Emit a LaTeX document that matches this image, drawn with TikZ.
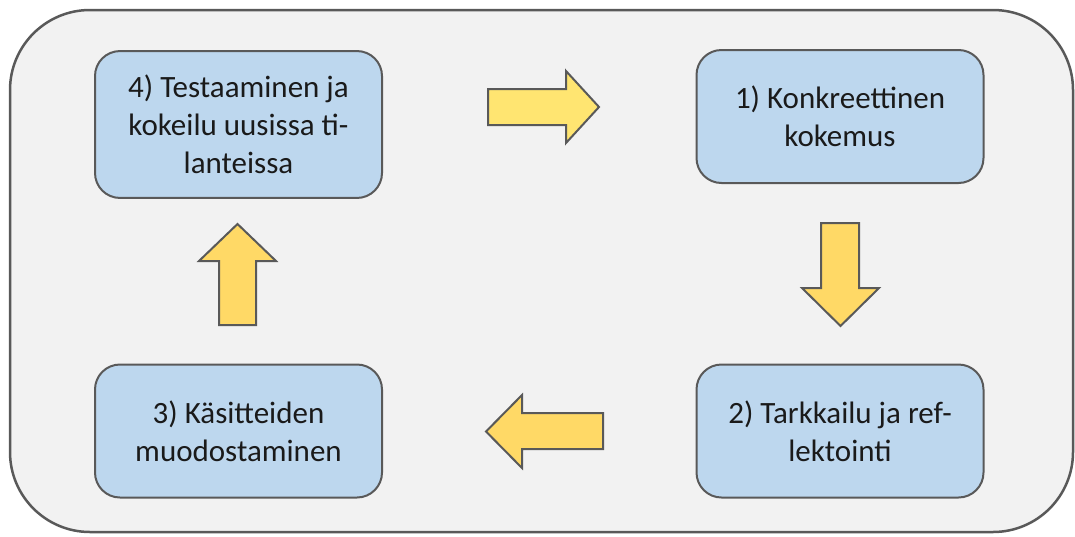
\documentclass[tikz,border=0pt]{standalone}
\usepackage{fontspec}
\setmainfont{Carlito}
\usepackage{xcolor}
\definecolor{framegray}{HTML}{595959}
\definecolor{panelgray}{HTML}{F2F2F2}
\definecolor{stepblue}{HTML}{BDD7EE}
\definecolor{arrowyellow}{HTML}{FFD966}
\definecolor{paleyellow}{HTML}{FFE571}
\definecolor{textblack}{HTML}{1A1A1A}
\usepackage{tikz}
\usetikzlibrary{positioning}

\tikzset{
  stepbox/.style={draw=framegray, line width=2pt, fill=stepblue, rounded corners=25pt,
    minimum width=287pt, minimum height=133pt, inner xsep=14pt, inner ysep=24pt, align=center,
    text=textblack, font=\fontsize{31}{38}\selectfont},
  blockarrow/.style={draw=framegray, line width=2pt, fill=arrowyellow, line join=miter}
}

\begin{document}
\begin{tikzpicture}[x=1pt, y=-1pt]
  \useasboundingbox (0,0) rectangle (1075,536);
  % Background panel round the whole cycle
  \draw[framegray, line width=2.5pt, fill=panelgray, rounded corners=80pt] (10,10) rectangle (1073,532);

  % The four steps of the cycle
  \node[stepbox] (test) at (238.5,124.5) {4) Testaaminen ja\\kokeilu uusissa ti-\\lanteissa};
  \node[stepbox] (kokemus) at (840,116.5) {1) Konkreettinen\\kokemus};
  \node[stepbox] (kasitteet) at (238.5,431) {3) Käsitteiden\\muodostaminen};
  \node[stepbox] (tarkkailu) at (840,431) {2) Tarkkailu ja ref-\\lektointi};

  % Block arrows between the steps
  \draw[blockarrow, fill=paleyellow] (488,89) -- (566,89) -- (566,71) -- (599,107) -- (566,143) -- (566,125) -- (488,125) -- cycle;
  \draw[blockarrow] (821,223) -- (859,223) -- (859,288) -- (879,288) -- (840.5,326) -- (802,288) -- (821,288) -- cycle;
  \draw[blockarrow] (603,413) -- (522,413) -- (522,395) -- (486,431.5) -- (522,468) -- (522,449) -- (603,449) -- cycle;
  \draw[blockarrow] (219,325) -- (219,261) -- (199,261) -- (237.5,224) -- (276,261) -- (256,261) -- (256,325) -- cycle;
\end{tikzpicture}
\end{document}
